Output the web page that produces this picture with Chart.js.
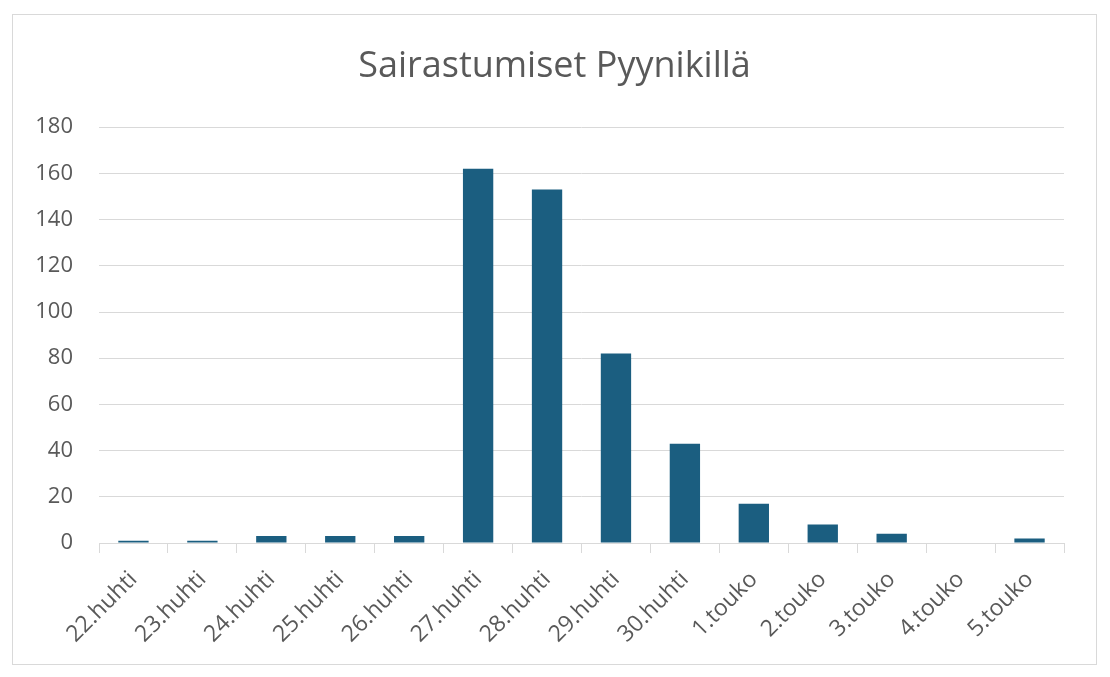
<!DOCTYPE html>
<html>
<head>
<meta charset="utf-8">
<script src="https://cdn.jsdelivr.net/npm/chart.js@4"></script>
<style>
  body { margin: 0; background: #fff; }
  #frame {
    position: absolute; left: 12px; top: 14px;
    width: 1083px; height: 649px;
    border: 1px solid #d9d9d9;
  }
  canvas { display: block; }
</style>
</head>
<body>
<div id="frame"><canvas id="chart"></canvas></div>
<script>
const days = ['22.huhti', '23.huhti', '24.huhti', '25.huhti', '26.huhti', '27.huhti', '28.huhti',
              '29.huhti', '30.huhti', '1.touko', '2.touko', '3.touko', '4.touko', '5.touko'];
const cases = [1, 1, 3, 3, 3, 162, 153, 82, 43, 17, 8, 4, 0, 2];
const yTicks = { min: 0, max: 180, step: 20 };

const textColor = '#595959';
const lineColor = '#d9d9d9';
const font = '"Open Sans", "Noto Sans", sans-serif';

new Chart(document.getElementById('chart'), {
  type: 'bar',
  data: {
    labels: days,
    datasets: [{
      data: cases,
      backgroundColor: '#1b5e80',
      categoryPercentage: 1,
      barPercentage: 0.44
    }]
  },
  options: {
    responsive: true,
    maintainAspectRatio: false,
    animation: false,
    layout: { padding: 0 },
    plugins: {
      legend: { display: false },
      tooltip: { enabled: false },
      title: {
        display: true,
        text: 'Sairastumiset Pyynikillä',
        color: textColor,
        font: { family: font, size: 36, weight: 'normal' },
        padding: { top: 30, bottom: 39 }
      }
    },
    scales: {
      x: {
        offset: true,
        grid: { drawOnChartArea: false, drawTicks: true, tickLength: 10, color: lineColor, offset: true },
        border: { color: lineColor },
        ticks: {
          color: textColor,
          font: { family: font, size: 23 },
          minRotation: 45,
          maxRotation: 45,
          padding: 13
        },
        afterFit(scale) { scale.height = 121; }
      },
      y: {
        min: yTicks.min,
        max: yTicks.max,
        grid: { color: lineColor, drawTicks: false },
        border: { display: false },
        ticks: {
          stepSize: yTicks.step,
          color: textColor,
          font: { family: font, size: 22 },
          padding: 26
        },
        afterFit(scale) { scale.width = 86; }
      },
      // empty right-hand axis, only reserves the margin so the title stays centred
      spacer: {
        position: 'right',
        grid: { display: false },
        border: { display: false },
        ticks: { display: false },
        afterFit(scale) { scale.width = 32; }
      }
    }
  }
});
</script>
</body>
</html>
